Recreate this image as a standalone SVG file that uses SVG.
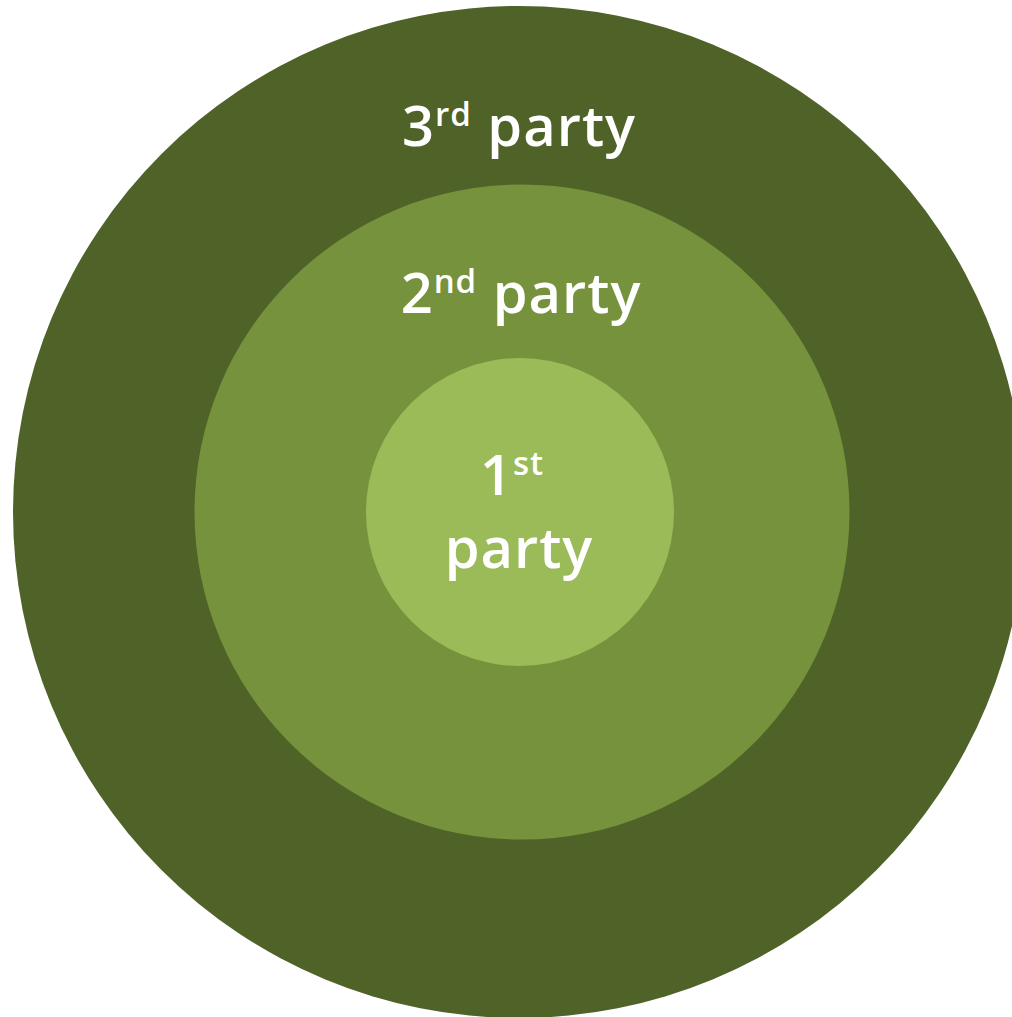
<svg xmlns="http://www.w3.org/2000/svg" width="1012" height="1017" viewBox="0 0 1012 1017">
<style>
.lbl{font-family:"Open Sans","Noto Sans","DejaVu Sans",sans-serif;font-weight:600;font-size:56px;fill:#ffffff;text-anchor:middle;letter-spacing:1px}
.sup{font-size:33px}
</style>
<rect width="1012" height="1017" fill="#ffffff"/>
<g id="third">
<circle cx="519" cy="512" r="506" fill="#4F6228"/>
<text class="lbl" x="519" y="146">3<tspan class="sup" dy="-20">rd</tspan><tspan dy="20"> party</tspan></text>
</g>
<g id="second">
<circle cx="522" cy="512" r="327.5" fill="#76923C"/>
<text class="lbl" x="521" y="313">2<tspan class="sup" dy="-20">nd</tspan><tspan dy="20"> party</tspan></text>
</g>
<g id="first">
<circle cx="520" cy="512" r="154" fill="#9BBB59"/>
<text class="lbl" x="512" y="495">1<tspan class="sup" dy="-20">st</tspan></text>
<text class="lbl" x="519" y="568">party</text>
</g>
<g id="connectors"/>
</svg>
